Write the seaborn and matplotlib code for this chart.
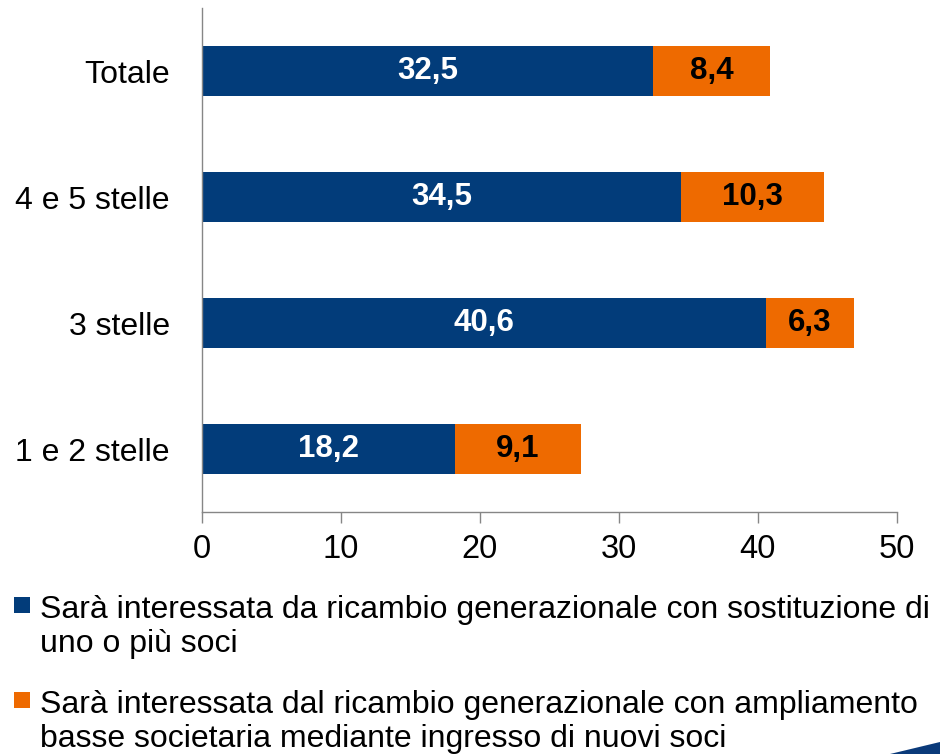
import matplotlib
matplotlib.use("Agg")
import matplotlib.pyplot as plt
import seaborn as sns
import pandas as pd
from matplotlib.patches import Rectangle, Polygon

categorie = ["Totale", "4 e 5 stelle", "3 stelle", "1 e 2 stelle"]
sostituzione = [32.5, 34.5, 40.6, 18.2]
ampliamento = [8.4, 10.3, 6.3, 9.1]
etichette_legenda = [
    "Sarà interessata da ricambio generazionale con sostituzione di\nuno o più soci",
    "Sarà interessata dal ricambio generazionale con ampliamento\nbasse societaria mediante ingresso di nuovi soci",
]

blu = "#023C7A"
arancio = "#EE6A00"

sns.set_style("white")
plt.rcParams["font.family"] = ["Liberation Sans", "DejaVu Sans"]
plt.rcParams["text.color"] = "black"

df = pd.DataFrame({"cat": categorie, "sost": sostituzione, "ampl": ampliamento})
df["tot"] = df["sost"] + df["ampl"]

fig = plt.figure(figsize=(9.4, 7.54), dpi=100)
ax = fig.add_axes([0.2145, 0.321, 0.7395, 0.668])

# barre impilate: totale in arancio, poi il blu sopra
sns.barplot(data=df, x="tot", y="cat", orient="h", color=arancio, width=0.4,
            saturation=1, ax=ax, linewidth=0)
sns.barplot(data=df, x="sost", y="cat", orient="h", color=blu, width=0.4,
            saturation=1, ax=ax, linewidth=0)

for i, (s, a) in enumerate(zip(sostituzione, ampliamento)):
    ax.text(s / 2, i, f"{s:.1f}".replace(".", ","), ha="center", va="center",
            color="white", fontsize=22.5, fontweight="bold")
    ax.text(s + a / 2, i, f"{a:.1f}".replace(".", ","), ha="center", va="center",
            color="black", fontsize=22.5, fontweight="bold")

ax.set_xlim(0, 50)
ax.set_ylim(3.5, -0.5)
ax.set_xticks([0, 10, 20, 30, 40, 50])
ax.set_xlabel("")
ax.set_ylabel("")
ax.tick_params(axis="x", direction="out", length=8, width=1, color="#868686",
               labelsize=23.5, pad=8, bottom=True, labelcolor="black")
ax.tick_params(axis="y", length=0, labelsize=23, pad=23, labelcolor="black")
for side in ["top", "right"]:
    ax.spines[side].set_visible(False)
for side in ["left", "bottom"]:
    ax.spines[side].set_color("#868686")
    ax.spines[side].set_linewidth(1)

# legenda manuale: quadratino allineato alla prima riga
colori = [blu, arancio]
prima_riga = [615, 710]   # baseline della prima riga (pixel dall'alto)
passo = 37
for col, lab, yb in zip(colori, etichette_legenda, prima_riga):
    fig.patches.append(Rectangle((14 / 940, (754 - yb + 2) / 754), 16 / 940, 16 / 754,
                                 transform=fig.transFigure, facecolor=col,
                                 edgecolor="none"))
    # va="baseline" su testo multiriga allinea l'ultima riga
    fig.text(40 / 940, (754 - yb - passo) / 754, lab, ha="left", va="baseline",
             fontsize=23, color="black", linespacing=1.16)

# angolo decorativo in basso a destra
fig.patches.append(Polygon([[0.947, 0.0], [1.0, 0.0], [1.0, 0.016]],
                           closed=True, transform=fig.transFigure,
                           facecolor="#0A3A7A", edgecolor="none"))

fig.savefig("out.png", dpi=100)
